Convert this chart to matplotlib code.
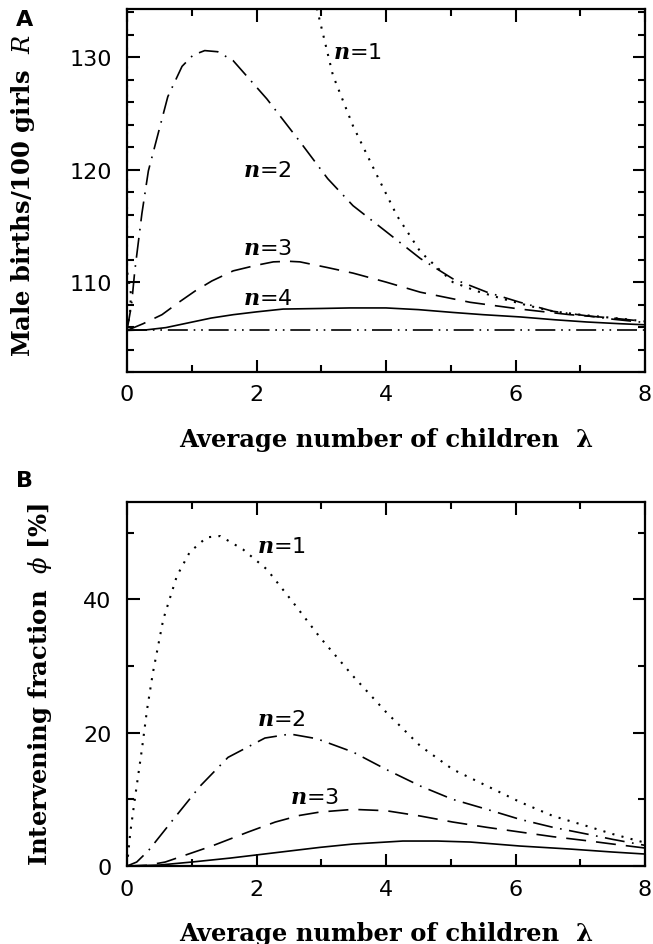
import matplotlib as mpl
import matplotlib.pyplot as plt
from matplotlib.ticker import MultipleLocator

# panel A: male births per 100 girls, R
lam_a_base = [0, 8]
r_a_base = [105.7, 105.7]

lam_a_n1 = [0, 0.05, 0.06, 0.0, 0.0, 2.8, 2.93, 3.18, 3.49, 3.86, 4.17, 4.53,
            5.03, 5.4, 5.81, 6.2, 6.58, 7.0, 7.35, 7.7, 8.0]
r_a_n1 = [105.7, 107.5, 109.0, 111.0, 150.0, 150.0, 134.4, 128.4, 123.9, 119.5, 115.9, 112.7,
          110.0, 109.2, 108.5, 107.9, 107.4, 107.1, 106.9, 106.7, 106.5]

lam_a_n2 = [0, 0.07, 0.12, 0.23, 0.33, 0.48, 0.63, 0.85, 1.02, 1.2, 1.4, 1.64, 2.16,
            2.67, 3.1, 3.49, 4.0, 4.53, 5.03, 5.56, 6.07, 6.58, 7.1, 7.5, 8.0]
r_a_n2 = [105.7, 108.0, 111.0, 116.1, 119.9, 123.2, 126.5, 129.2, 130.2, 130.6, 130.5,
          129.7, 126.3, 122.5, 119.2, 116.8, 114.5, 112.1, 110.3, 109.1, 108.2, 107.4,
          107.0, 106.7, 106.4]

lam_a_n3 = [0, 0.25, 0.54, 0.8, 1.05, 1.31, 1.64, 2.0, 2.26, 2.5, 2.67, 3.09, 3.49, 4.0,
            4.53, 5.3, 6.07, 6.84, 7.4, 8.0]
r_a_n3 = [105.7, 106.3, 107.1, 108.2, 109.2, 110.1, 111.0, 111.5, 111.8, 111.85, 111.8,
          111.3, 110.8, 110.0, 109.1, 108.2, 107.6, 107.1, 106.85, 106.5]

lam_a_n4 = [0, 0.3, 0.6, 0.97, 1.3, 1.64, 2.0, 2.41, 2.98, 3.44, 4.0, 4.5, 5.03, 5.5,
            6.07, 6.6, 7.1, 7.6, 8.0]
r_a_n4 = [105.7, 105.75, 105.95, 106.4, 106.8, 107.1, 107.35, 107.6, 107.65, 107.7,
          107.7, 107.55, 107.3, 107.1, 106.9, 106.65, 106.45, 106.3, 106.2]

# panel B: intervening fraction, phi [%]
lam_b_n1 = [0, 0.05, 0.12, 0.23, 0.31, 0.4, 0.56, 0.77, 0.97, 1.23, 1.44, 1.79, 2.16,
            2.56, 2.98, 3.49, 4.0, 4.53, 5.03, 5.56, 6.07, 6.58, 7.1, 7.5, 8.0]
phi_b_n1 = [0, 5.0, 10.0, 17.5, 23.5, 29.0, 37.0, 43.5, 47.1, 49.3, 49.5, 47.5, 44.5,
            39.6, 34.3, 28.5, 23.1, 18.0, 14.5, 12.0, 9.6, 7.5, 6.0, 4.8, 3.5]

lam_b_n2 = [0, 0.15, 0.33, 0.74, 1.13, 1.56, 2.13, 2.52, 2.93, 3.49, 4.0, 4.53, 5.03,
            5.56, 6.07, 6.58, 7.1, 7.5, 8.0]
phi_b_n2 = [0, 0.6, 2.3, 7.3, 12.0, 16.3, 19.2, 19.8, 19.1, 17.1, 14.5, 12.0, 10.0,
            8.5, 7.0, 5.8, 4.8, 4.0, 3.1]

lam_b_n3 = [0, 0.3, 0.59, 1.31, 1.87, 2.29, 2.67, 2.98, 3.49, 4.0, 4.53, 5.03, 5.56,
            6.07, 6.58, 7.1, 7.5, 8.0]
phi_b_n3 = [0, 0.1, 0.6, 3.0, 5.1, 6.6, 7.6, 8.1, 8.5, 8.3, 7.5, 6.6, 5.8, 5.1, 4.4,
            3.8, 3.3, 2.7]

lam_b_n4 = [0, 0.5, 1.0, 1.6, 2.29, 2.98, 3.49, 4.26, 4.79, 5.3, 6.07, 6.84, 7.5, 8.0]
phi_b_n4 = [0, 0.15, 0.6, 1.2, 2.0, 2.8, 3.3, 3.75, 3.75, 3.6, 3.0, 2.55, 2.1, 1.8]

x_ticks = [0, 2, 4, 6, 8]

mpl.rcParams['font.family']      = 'DejaVu Sans'
mpl.rcParams['mathtext.fontset'] = 'dejavuserif'
mpl.rcParams['font.size']        = 16
mpl.rcParams['axes.linewidth']   = 1.6

DOT     = (0, (1, 3.5))
DASHDOT = (0, (12, 4.5, 1, 4.5))
DASH    = (0, (12, 6))
DASH2D  = (0, (12, 3.5, 1, 3.5, 1, 3.5))
LW = 1.2

fig = plt.figure(figsize=(6.53, 9.45), dpi=100)
ax_a = fig.add_axes([0.1945, 0.6053, 0.7933, 0.3841])
ax_b = fig.add_axes([0.1945, 0.0825, 0.7933, 0.3852])

label_font = dict(family='DejaVu Serif', fontweight='bold', fontsize=17.5)

def style(ax):
    ax.set_xlim(0, 8)
    ax.set_xticks(x_ticks)
    ax.xaxis.set_minor_locator(MultipleLocator(1))
    ax.tick_params(which='both', direction='in', top=True, right=True, width=1.5)
    ax.tick_params(which='major', length=9, labelsize=16)
    ax.tick_params(which='minor', length=5)
    ax.tick_params(axis='x', pad=9)
    ax.tick_params(axis='y', pad=11)
    ax.set_xlabel("Average number of children  \u03bb", va='center', **label_font)
    ax.xaxis.set_label_coords(0.5, -0.184)

# panel A
ax_a.plot(lam_a_base, r_a_base, color='black', lw=LW, linestyle=DASH2D)
ax_a.plot(lam_a_n1, r_a_n1, color='black', lw=LW + 0.3, linestyle=DOT)
ax_a.plot(lam_a_n2, r_a_n2, color='black', lw=LW, linestyle=DASHDOT)
ax_a.plot(lam_a_n3, r_a_n3, color='black', lw=LW, linestyle=DASH)
ax_a.plot(lam_a_n4, r_a_n4, color='black', lw=LW)
style(ax_a)
ax_a.set_ylim(102, 134.3)
ax_a.set_yticks([110, 120, 130])
ax_a.yaxis.set_minor_locator(MultipleLocator(2))
ax_a.set_ylabel("Male births/100 girls  $R$", va='center', **label_font)
ax_a.yaxis.set_label_coords(-0.2, 0.49)

for txt, x, y in [("1", 3.18, 130.5), ("2", 1.79, 120.0), ("3", 1.79, 113.0), ("4", 1.79, 108.6)]:
    ax_a.text(x, y, r"$\mathbfit{n}$=" + txt, fontsize=16, va='center', ha='left')

# panel B
ax_b.plot(lam_b_n1, phi_b_n1, color='black', lw=LW + 0.3, linestyle=DOT)
ax_b.plot(lam_b_n2, phi_b_n2, color='black', lw=LW, linestyle=DASHDOT)
ax_b.plot(lam_b_n3, phi_b_n3, color='black', lw=LW, linestyle=DASH)
ax_b.plot(lam_b_n4, phi_b_n4, color='black', lw=LW)
style(ax_b)
ax_b.set_ylim(0, 54.6)
ax_b.set_yticks([0, 20, 40])
ax_b.yaxis.set_minor_locator(MultipleLocator(10))
ax_b.set_ylabel("Intervening fraction  $\\phi$ [%]", va='center', **label_font)
ax_b.yaxis.set_label_coords(-0.168, 0.5)

for txt, x, y in [("1", 2.0, 48.0), ("2", 2.0, 22.0), ("3", 2.52, 10.4)]:
    ax_b.text(x, y, r"$\mathbfit{n}$=" + txt, fontsize=16, va='center', ha='left')

fig.text(0.024, 0.979, "A", fontsize=16, fontweight='bold', va='center')
fig.text(0.024, 0.491, "B", fontsize=16, fontweight='bold', va='center')

plt.savefig('out.png', dpi=100)
